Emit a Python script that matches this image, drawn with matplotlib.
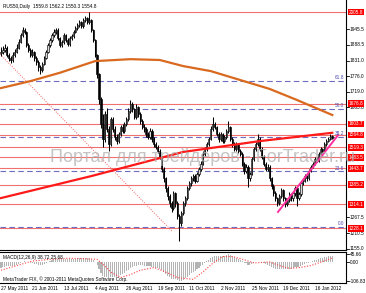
import matplotlib
matplotlib.use('Agg')
import matplotlib.pyplot as plt
import matplotlib.transforms as mtransforms

plt.rcParams['font.family'] = ['Liberation Sans', 'DejaVu Sans']

# bar index 0 = 27 May 2011, one bar per trading day, last bar = 27 Jan 2012
first_open = 1858.0
closes = [1864, 1871, 1878, 1853, 1842, 1835, 1853, 1864, 1878, 1899,
          1924, 1942, 1935, 1888, 1871, 1853, 1864, 1842, 1828, 1807,
          1799, 1821, 1842, 1864, 1888, 1906, 1924, 1935, 1942, 1913,
          1888, 1899, 1924, 1906, 1892, 1913, 1920, 1935, 1949, 1960,
          1970, 1956, 1977, 1985, 1970, 1977, 1942, 1906, 1853, 1782,
          1692, 1603, 1550, 1639, 1586, 1532, 1621, 1586, 1557, 1543,
          1568, 1593, 1579, 1603, 1621, 1650, 1675, 1657, 1628, 1664,
          1639, 1614, 1593, 1586, 1568, 1557, 1579, 1550, 1532, 1521,
          1507, 1486, 1443, 1408, 1372, 1343, 1318, 1301, 1354, 1318,
          1272, 1247, 1283, 1318, 1336, 1372, 1390, 1408, 1415, 1400,
          1425, 1443, 1461, 1497, 1514, 1532, 1550, 1586, 1603, 1593,
          1568, 1550, 1568, 1543, 1557, 1579, 1593, 1550, 1532, 1514,
          1532, 1507, 1497, 1461, 1436, 1450, 1408, 1425, 1479, 1514,
          1532, 1550, 1514, 1486, 1461, 1443, 1450, 1408, 1379, 1354,
          1336, 1318, 1343, 1365, 1336, 1315, 1329, 1351, 1336, 1354,
          1372, 1336, 1351, 1390, 1400, 1415, 1408, 1436, 1450, 1461,
          1479, 1472, 1497, 1514, 1507, 1532, 1543, 1550, 1559.8, 1554.8]
highs = [1880, 1885, 1890, 1884, 1860, 1850, 1862, 1872, 1890, 1908,
         1932, 1952, 1950, 1938, 1896, 1878, 1872, 1868, 1848, 1834,
         1815, 1828, 1850, 1870, 1895, 1914, 1930, 1944, 1950, 1948,
         1918, 1906, 1930, 1928, 1912, 1920, 1928, 1942, 1956, 1968,
         1978, 1975, 1984, 1994, 1990, 2005.8, 1980, 1946, 1910, 1856,
         1786, 1700, 1640, 1650, 1660, 1595, 1630, 1628, 1595, 1568,
         1576, 1600, 1602, 1612, 1630, 1660, 1690, 1682, 1662, 1676,
         1670, 1645, 1620, 1602, 1592, 1575, 1588, 1584, 1556, 1540,
         1528, 1512, 1490, 1450, 1414, 1380, 1350, 1325, 1362, 1360,
         1325, 1280, 1292, 1325, 1345, 1380, 1398, 1415, 1425, 1422,
         1432, 1450, 1470, 1505, 1522, 1540, 1558, 1595, 1628, 1610,
         1598, 1575, 1576, 1572, 1565, 1586, 1615, 1598, 1556, 1540,
         1538, 1536, 1512, 1502, 1468, 1458, 1455, 1432, 1486, 1522,
         1540, 1568, 1555, 1520, 1492, 1468, 1458, 1455, 1414, 1386,
         1362, 1342, 1350, 1372, 1370, 1342, 1336, 1358, 1356, 1360,
         1380, 1376, 1358, 1396, 1408, 1422, 1420, 1442, 1456, 1468,
         1486, 1485, 1503, 1520, 1518, 1538, 1550, 1558, 1568, 1562.2]
lows = [1850, 1856, 1862, 1845, 1830, 1822, 1828, 1846, 1858, 1872,
        1894, 1918, 1926, 1880, 1862, 1845, 1846, 1832, 1815, 1796,
        1785, 1792, 1815, 1836, 1858, 1880, 1898, 1918, 1928, 1906,
        1880, 1882, 1892, 1898, 1884, 1886, 1905, 1914, 1930, 1942,
        1954, 1948, 1950, 1970, 1962, 1962, 1935, 1898, 1845, 1770,
        1675, 1590, 1520, 1540, 1575, 1505, 1525, 1575, 1545, 1530,
        1535, 1560, 1570, 1572, 1596, 1615, 1642, 1648, 1620, 1622,
        1630, 1605, 1585, 1576, 1558, 1548, 1550, 1540, 1522, 1512,
        1498, 1476, 1432, 1396, 1360, 1330, 1305, 1288, 1295, 1305,
        1260, 1183, 1238, 1275, 1310, 1330, 1365, 1382, 1400, 1392,
        1395, 1418, 1436, 1455, 1490, 1508, 1525, 1545, 1580, 1585,
        1560, 1540, 1542, 1535, 1536, 1550, 1572, 1542, 1522, 1505,
        1506, 1498, 1488, 1452, 1425, 1428, 1378, 1400, 1420, 1472,
        1508, 1525, 1506, 1478, 1452, 1435, 1436, 1398, 1370, 1345,
        1326, 1308, 1312, 1336, 1328, 1305, 1308, 1322, 1326, 1328,
        1346, 1310, 1330, 1345, 1384, 1394, 1400, 1402, 1430, 1445,
        1455, 1466, 1468, 1490, 1500, 1502, 1526, 1538, 1545, 1550.3]

# MACD(12,26,9) main histogram, one value per bar
macd_main = [-30, -27, -24, -22, -22, -23, -22, -19, -15, -10, -4,
             2, 6, 5, 2, -2, -4,
             -7, -10, -14, -16, -14, -10,
             -5, 0, 6, 12, 17, 20, 21, 19,
             18, 18, 19, 18, 17, 18, 19, 21, 23, 25, 24, 25, 27, 26,
             26, 22, 14, 2, -16, -38, -62, -80, -82, -86, -92, -86,
             -86, -85, -84, -80, -74, -66, -58, -50, -42, -33, -25, -22, -19, -16,
             -16, -17, -18, -20, -22, -22, -24, -27, -30, -33, -37,
             -45, -55, -66, -77, -86, -93, -93, -96, -102, -106.83, -104,
             -98, -90, -81, -72, -63, -55, -48, -40,
             -31, -22, -12, -3, 6, 15, 24, 31, 35, 36,
             36, 38, 37, 38, 40, 45.66, 40, 35, 29, 25,
             20, 14, 6, -2, -6, -12, -14, -10, -4, 0,
             4, 4, 0, -5, -10, -13, -18, -24, -30, -35,
             -40, -40, -38, -38, -40, -40, -38, -35, -32, -28, -28, -26,
             -20, -15, -10, -6, -1, 4, 8, 12, 15, 19, 23, 26, 30, 33, 35, 37, 38.72]
signal_idx = [0, 8, 16, 25, 34, 42, 49, 53, 56, 61, 66, 71, 78, 84, 90, 98,
              103, 108, 113, 118, 124, 129, 137, 142, 147, 152, 158, 164, 169]
signal_val = [-45, -18, 8, 18, 24, 22, 18, -20, -55, -87, -70, -45, -29, -55, -87, -97,
              -55, -5, 34, 34, 16, -3, 3, -18, -34, -30, -18, 5, 25.68]

# moving averages (orange and red) sampled along their paths
ma_orange_idx = [0, 15, 30, 48, 66, 81, 93, 107, 122, 137, 151, 169]
ma_orange_val = [1733, 1758, 1788, 1830, 1837, 1834, 1812, 1794, 1762, 1730, 1690, 1636]
ma_red_idx = [0, 46, 93, 132, 169]
ma_red_val = [1337, 1416, 1503, 1542, 1572]

# drawn objects
trend_idx = [141.3, 172.0]
trend_val = [1287, 1564]
diag_idx = [-0.5, 87.2]
diag_val = [1855, 1218]
red_levels = [2005.8, 1676.8, 1603.7, 1564.8, 1519.3, 1483.5, 1443.7, 1385.2, 1314.1, 1228.1]
fib_names = ['0.0', '23.6', '38.2', '50.0', '61.8']
fib_levels = [1232, 1433, 1557, 1658, 1758]

price_ticks = [1945.5, 1888.5, 1831.0, 1776.0, 1719.0, 1663.8, 1267.5, 1210.5, 1155.0]
macd_ticks = [45.66, 0.00, -106.83]
date_idx = [0, 16, 32, 48, 64, 80, 96, 112, 128, 144, 160]
date_labels = ['27 May 2011', '21 Jun 2011', '13 Jul 2011', '4 Aug 2011', '26 Aug 2011',
               '19 Sep 2011', '11 Oct 2011', '2 Nov 2011', '25 Nov 2011', '19 Dec 2011',
               '16 Jan 2012']

W, H = 366, 293
fig = plt.figure(figsize=(W / 100, H / 100), dpi=100)
fig.patch.set_facecolor('white')
ax = fig.add_axes([0, (H - 250) / H, 346 / W, 250 / H])
axm = fig.add_axes([0, (H - 283) / H, 346 / W, 31 / H])

xlim = (-0.51, 176.0)
small = 3.4

# ---- main chart ----
ax.set_xlim(*xlim)
ax.set_ylim(1150, 2050)
for s in ['left', 'top']:
    ax.spines[s].set_visible(False)
ax.spines['right'].set_linewidth(0.8)
ax.spines['bottom'].set_linewidth(0.8)
ax.set_xticks([])
ax.set_yticks([])

for lv in red_levels:
    ax.axhline(lv, color='#f07070', lw=0.8, zorder=1)
for lv in fib_levels:
    ax.axhline(lv, color='#6c6cc0', lw=0.8, ls=(0, (5, 3)), zorder=1)

ax.plot(diag_idx, diag_val, color='#f06060', lw=0.7, ls=(0, (1, 1.5)), zorder=2)

n = len(closes)
idx = list(range(n))
opens = [first_open] + closes[:-1]
ax.vlines(idx, lows, highs, color='black', lw=0.75, zorder=3)
for i in idx:
    o, c = opens[i], closes[i]
    fc = '#d8d8d8' if c >= o else 'black'
    ax.bar(i, max(abs(c - o), 1), bottom=min(o, c), width=0.6, color=fc,
           edgecolor='black', linewidth=0.45, zorder=4)

ax.plot(ma_orange_idx, ma_orange_val, color='#d9691e', lw=1.6, zorder=5)
ax.plot(ma_red_idx, ma_red_val, color='#ff1a1a', lw=1.6, zorder=5)
ax.plot(trend_idx, trend_val, color='#ff2fa0', lw=1.4, zorder=5)

bt = mtransforms.blended_transform_factory(ax.transAxes, ax.transData)
for name, lv in zip(fib_names, fib_levels):
    ax.text(0.995, lv + 3, name, transform=bt, ha='right', va='bottom',
            fontsize=small, color='#4a4ab0', zorder=6)
for p in price_ticks:
    ax.plot([1.0, 1.008], [p, p], transform=bt, color='black', lw=0.6, clip_on=False)
    ax.text(1.01, p, f'{p:.1f}', transform=bt, ha='left', va='center',
            fontsize=small, color='black', clip_on=False)
for lv in red_levels:
    ax.text(1.008, lv, f'{lv:.1f}', transform=bt, ha='left', va='center',
            fontsize=small, color='white', clip_on=False, zorder=7,
            bbox=dict(boxstyle='square,pad=0.15', fc='#ff0000', ec='none'))

ax.text(0.008, 0.985, 'RUS50,Daily  1559.8 1562.2 1550.3 1554.8', transform=ax.transAxes,
        ha='left', va='top', fontsize=small, color='black')
ax.text(0.145, 0.372, 'Портал для трейдеров - ForTrader.ru', transform=ax.transAxes,
        ha='left', va='center', fontsize=13, color='#b0b0b0', alpha=0.75,
        zorder=8, clip_on=False)

# ---- MACD panel ----
axm.set_xlim(*xlim)
axm.set_ylim(-118, 60)
axm.spines['left'].set_visible(False)
for s in ['right', 'top', 'bottom']:
    axm.spines[s].set_linewidth(0.8)
axm.set_xticks([])
axm.set_yticks([])
axm.bar(idx, macd_main, width=0.55, color='#b4b4b4', zorder=2)
axm.plot(signal_idx, signal_val, color='#ff4040', lw=0.8, ls=(0, (1, 1.5)), zorder=3)

btm = mtransforms.blended_transform_factory(axm.transAxes, axm.transData)
for v in macd_ticks:
    axm.plot([1.0, 1.008], [v, v], transform=btm, color='black', lw=0.6, clip_on=False)
    axm.text(1.01, v, f'{v:.2f}', transform=btm, ha='left', va='center',
             fontsize=small, color='black', clip_on=False)
axm.text(0.008, 0.9, 'MACD(12,26,9) 38.72 25.68', transform=axm.transAxes,
         ha='left', va='top', fontsize=small, color='black')
axm.text(0.008, 0.04, 'MetaTrader FIX, © 2001-2011 MetaQuotes Software Corp.',
         transform=axm.transAxes, ha='left', va='bottom', fontsize=small, color='black')

btd = mtransforms.blended_transform_factory(axm.transData, axm.transAxes)
for i, lab in zip(date_idx, date_labels):
    axm.text(i, -0.17, lab, transform=btd, ha='left', va='center',
             fontsize=small, color='black', clip_on=False)

fig.savefig('out.png', dpi=100, facecolor='white')
